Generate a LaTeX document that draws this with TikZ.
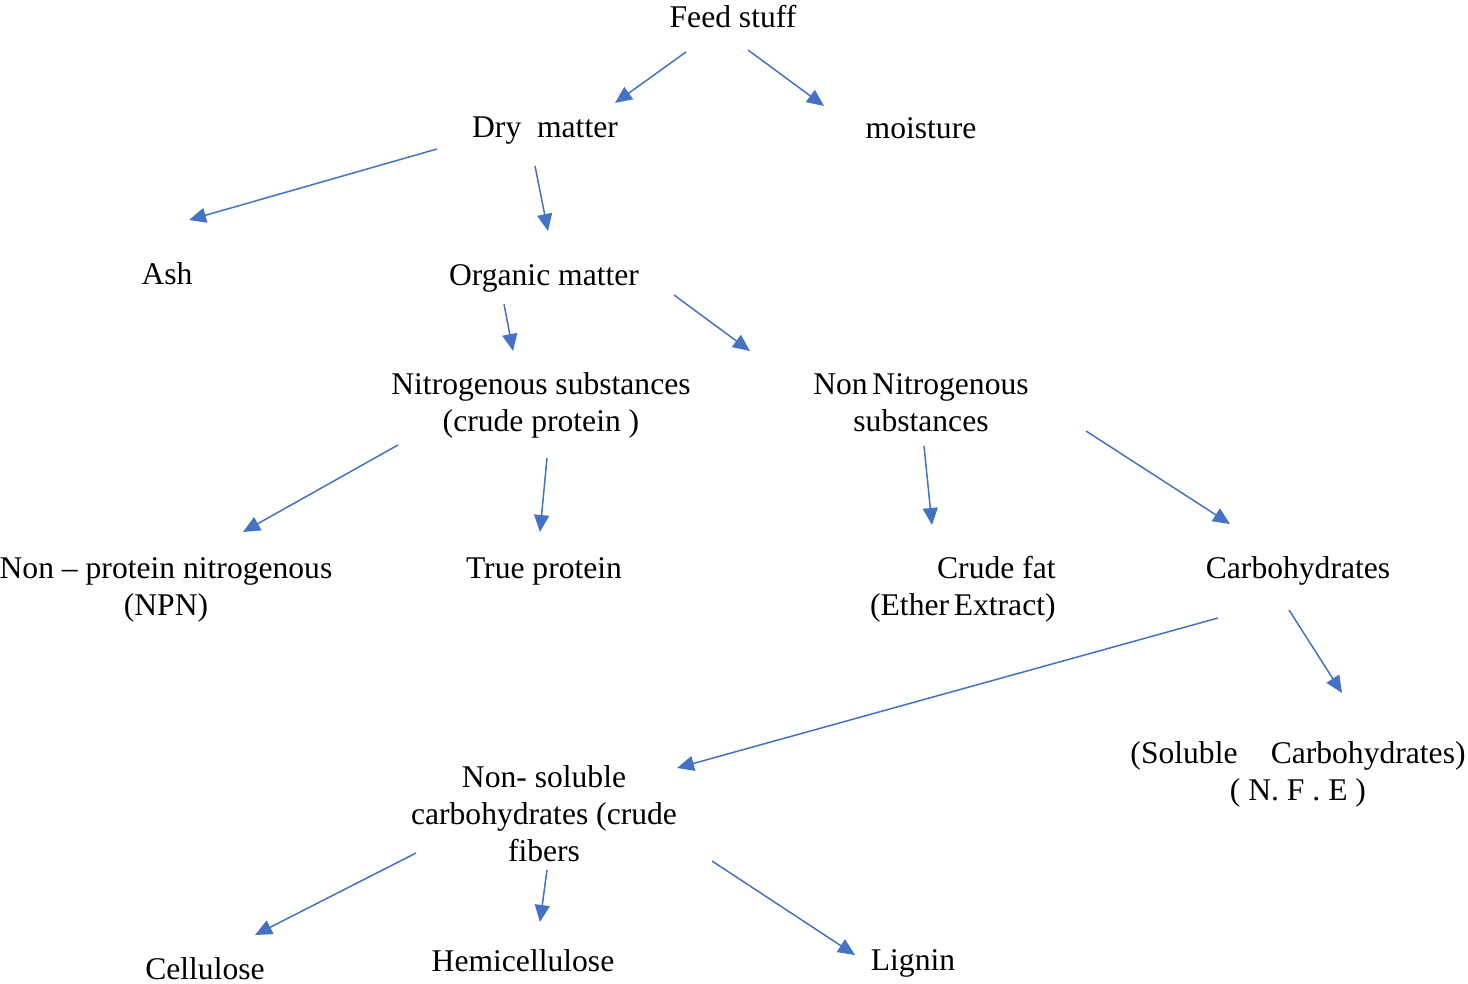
\documentclass[tikz,border=0pt]{standalone}
\usepackage{fontspec}
\setmainfont{Liberation Serif}
\usetikzlibrary{arrows.meta}
\definecolor{arrowblue}{RGB}{68,114,196}

\begin{document}
\begin{tikzpicture}[x=0.5pt, y=-0.5pt, >={Triangle[length=8.5pt,width=7.5pt]},
  lbl/.style={font=\fontsize{15.8}{18.5}\selectfont, inner sep=0pt, align=center},
  arr/.style={->, draw=arrowblue, fill=arrowblue, line width=0.75pt}]
\useasboundingbox (0,0) rectangle (1468,984);
% Top levels
\node[lbl] (feed) at (733,17) {Feed stuff};
\node[lbl] (dry) at (545,131) {Dry\hspace{0.5em}matter};
\node[lbl] (moist) at (921,128) {moisture};
\node[lbl] (ash) at (167,274) {Ash};
\node[lbl] (org) at (544,278) {Organic matter};
% Nitrogenous / non nitrogenous
\node[lbl] (nitro) at (541,405) {Nitrogenous substances\\(crude protein )};
\node[lbl] (nonnitro) at (921,403) {Non\hspace{0.15em}Nitrogenous\\substances};
\node[lbl] (npn) at (166,590) {Non -- protein nitrogenous\\(NPN)};
\node[lbl] (truep) at (544,571) {True protein};
\node[lbl, align=right, anchor=east] (fat) at (1056,589) {Crude fat\\(Ether\hspace{0.15em}Extract)};
\node[lbl] (carbo) at (1298,571) {Carbohydrates};
% Carbohydrates
\node[lbl] (sol) at (1298,774) {(Soluble\hspace{1.05em}Carbohydrates)\\( N. F . E )};
\node[lbl] (nonsol) at (544,814) {Non- soluble\\carbohydrates (crude\\fibers};
\node[lbl] (cell) at (205,969) {Cellulose};
\node[lbl] (hemi) at (523,961) {Hemicellulose};
\node[lbl] (lig) at (913,963) {Lignin};
% Arrow ends
\coordinate (feed-s1) at (686,52);   \coordinate (dry-t) at (615,103);
\coordinate (feed-s2) at (748,50);   \coordinate (moist-t) at (824,106);
\coordinate (dry-s1) at (437,149);   \coordinate (ash-t) at (189,220);
\coordinate (dry-s2) at (535,166);   \coordinate (org-t) at (548,231);
\coordinate (org-s1) at (504,304);   \coordinate (nitro-t) at (513,351);
\coordinate (org-s2) at (674,295);   \coordinate (nonnitro-t) at (750,351);
\coordinate (nitro-s1) at (398,445); \coordinate (npn-t) at (243,532);
\coordinate (nitro-s2) at (547,458); \coordinate (truep-t) at (540,532);
\coordinate (nonnitro-s1) at (924,446); \coordinate (fat-t) at (932,525);
\coordinate (nonnitro-s2) at (1086,431); \coordinate (carbo-t) at (1230,524);
\coordinate (carbo-s1) at (1218,618); \coordinate (nonsol-t) at (677,768);
\coordinate (carbo-s2) at (1289,610); \coordinate (sol-t) at (1342,693);
\coordinate (nonsol-s1) at (416,853); \coordinate (cell-t) at (255,935);
\coordinate (nonsol-s2) at (547,870); \coordinate (hemi-t) at (540,922);
\coordinate (nonsol-s3) at (712,861); \coordinate (lig-t) at (855,955);
% Arrows
\draw[arr] (feed-s1)--(dry-t);
\draw[arr] (feed-s2)--(moist-t);
\draw[arr] (dry-s1)--(ash-t);
\draw[arr] (dry-s2)--(org-t);
\draw[arr] (org-s1)--(nitro-t);
\draw[arr] (org-s2)--(nonnitro-t);
\draw[arr] (nitro-s1)--(npn-t);
\draw[arr] (nitro-s2)--(truep-t);
\draw[arr] (nonnitro-s1)--(fat-t);
\draw[arr] (nonnitro-s2)--(carbo-t);
\draw[arr] (carbo-s1)--(nonsol-t);
\draw[arr] (carbo-s2)--(sol-t);
\draw[arr] (nonsol-s1)--(cell-t);
\draw[arr] (nonsol-s2)--(hemi-t);
\draw[arr] (nonsol-s3)--(lig-t);
\end{tikzpicture}
\end{document}
